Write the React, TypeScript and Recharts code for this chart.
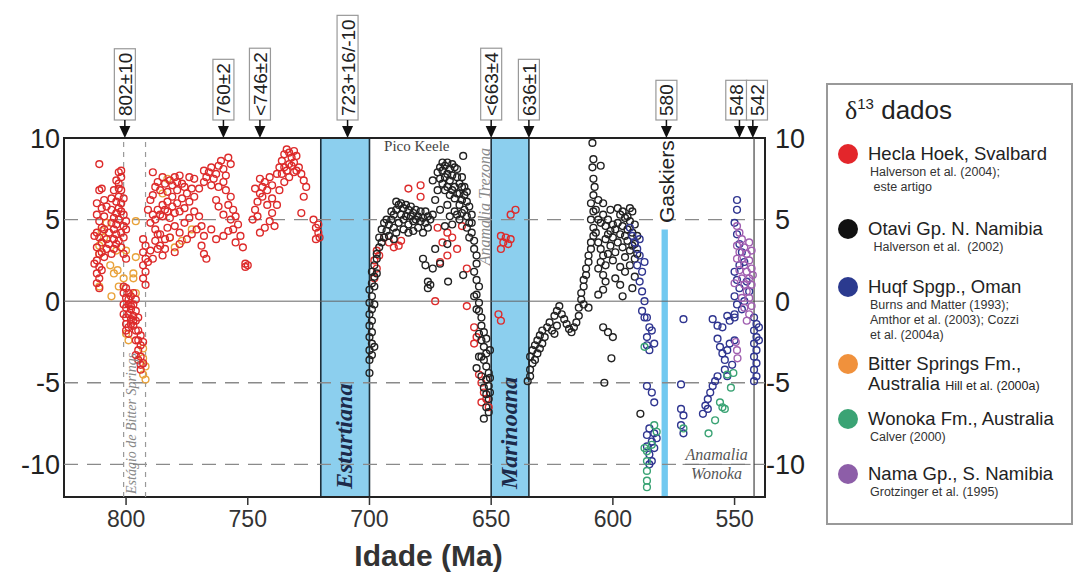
import React from 'react'
import { ScatterChart, Scatter, XAxis, YAxis, ReferenceArea, ReferenceLine, ReferenceDot } from 'recharts'

type P = [number, number]

// idade (Ma), δ13C
const heclaHoek: P[] = [
  [811, 8.4], [811, 6.8], [810, 6.9], [812, 5.3], [811, 4.9], [810, 4.5], [812, 4.2], [811, 3.9], [810, 3.6], [812, 3.3],
  [811, 2.9], [812, 2.5], [811, 2.1], [812, 1.7], [811, 1.4], [812, 1.1], [810, 5.7], [809, 5.2], [809, 4.4], [808, 3.8],
  [808, 3.2], [809, 2.7], [810, 1.9], [811, 0.8], [813, 4.0], [813, 2.3], [812, 6.0], [810, 3.0], [809, 6.2], [808, 5.8],
  [807, 4.2], [807, 3.5],
  [803, 7.9], [802, 7.6], [803, 7.2], [802, 6.8], [803, 6.4], [804, 6.1], [802, 6.0], [803, 5.7], [804, 5.4], [805, 5.1],
  [803, 5.0], [804, 4.7], [805, 4.4], [804, 4.1], [805, 3.8], [804, 3.5], [805, 3.2], [806, 2.9], [806, 4.8], [806, 5.6],
  [801, 6.3], [801, 5.3], [800, 4.9], [800, 4.4], [801, 3.9], [800, 2.6], [806, 6.3], [805, 6.8], [804, 7.4], [802, 8.0],
  [803, 6.9], [802, 5.5], [801, 4.6], [802, 4.2], [803, 3.7], [802, 3.3], [801, 2.9],
  [801, 0.5], [800, 0.2], [799, 0.5], [798, 0.3], [797, 0.5], [801, -0.2], [800, -0.4], [799, -0.2], [798, -0.5], [797, -0.2],
  [796, 0.1], [801, -0.8], [800, -1.0], [799, -0.8], [798, -1.1], [797, -0.9], [796, -0.6], [800, -1.4], [799, -1.6], [797, -1.5],
  [796, -1.2], [795, -1.0], [795, -1.8], [794, -2.1], [796, -2.4], [794, -2.7], [795, -3.0], [794, -3.4], [793, -3.8], [794, -4.2],
  [793, -2.5], [801, 0.9], [800, 0.8], [798, -0.3], [799, 0.1], [797, -1.2], [798, -1.4], [800, -1.8], [799, -2.0], [796, -1.8],
  [795, -2.4], [796, -3.3], [795, -3.6], [794, -3.9],
  [793, 3.8], [792, 3.4], [793, 3.0], [792, 2.6], [793, 2.2], [792, 1.8], [793, 1.4], [792, 1.0], [791, 2.4], [790, 3.1],
  [791, 5.6], [790, 6.2],
  [789, 7.9], [788, 7.0], [786, 6.8], [784, 7.2], [782, 7.4], [780, 7.6], [778, 7.7], [777, 7.2], [779, 6.8], [781, 6.4],
  [783, 6.1], [785, 5.9], [787, 5.6], [789, 5.3], [790, 4.8], [788, 4.4], [786, 4.1], [784, 3.8], [786, 3.4], [788, 5.0],
  [785, 5.2], [783, 5.5], [781, 5.8], [779, 6.0], [777, 6.3], [775, 6.6], [773, 6.9], [772, 7.5], [776, 4.8], [774, 5.1],
  [772, 5.5], [780, 4.6], [778, 4.2], [782, 3.9], [784, 3.2], [780, 3.0], [778, 3.5], [775, 3.8], [773, 4.1], [771, 4.4],
  [770, 5.2], [783, 4.5], [785, 2.8], [787, 3.2], [789, 6.5], [787, 7.3], [785, 7.6], [783, 6.7], [781, 7.1], [779, 7.3],
  [776, 7.0], [774, 7.6], [788, 3.7], [786, 5.3], [784, 5.6], [782, 5.1], [780, 5.4], [778, 5.5], [776, 5.7], [774, 6.1],
  [772, 6.4], [789, 2.6], [787, 4.1],
  [768, 8.0], [767, 7.6], [766, 7.9], [765, 8.2], [764, 7.5], [763, 7.8], [762, 8.3], [761, 8.6], [760, 8.1], [759, 7.7],
  [758, 8.8], [757, 8.4], [760, 7.3], [762, 7.0], [765, 7.1], [768, 7.3], [770, 6.9], [759, 6.8], [757, 6.4], [758, 5.9],
  [756, 5.6], [755, 5.2], [757, 5.0], [760, 5.3], [762, 5.8], [763, 6.2], [754, 4.7], [756, 4.4], [753, 4.0], [758, 4.3],
  [760, 4.0], [755, 3.6], [752, 3.3], [769, 4.6], [768, 4.0], [769, 3.4], [768, 2.9], [767, 2.6], [751, 2.3], [750, 2.2],
  [751, 2.1], [765, 4.4], [763, 3.8],
  [747, 5.6], [746, 6.1], [745, 6.6], [744, 7.0], [743, 7.3], [742, 6.8], [744, 6.4], [746, 5.2], [741, 7.6], [740, 7.1],
  [742, 5.9], [740, 5.4], [739, 4.6], [741, 4.9], [738, 7.8], [737, 8.2], [736, 8.6], [735, 9.0], [734, 9.3], [733, 9.1],
  [732, 8.8], [731, 8.5], [730, 8.9], [732, 8.3], [734, 8.0], [736, 7.8], [733, 7.6], [731, 7.9], [729, 8.2], [735, 7.3],
  [737, 6.8], [743, 4.5], [745, 4.2], [748, 5.0], [738, 5.9], [740, 6.3], [745, 7.5], [747, 6.9], [733, 8.4], [735, 8.2],
  [731, 9.2], [730, 8.0], [728, 7.8],
  [727, 7.4], [726, 7.0], [727, 6.4], [728, 5.4], [723, 5.0], [722, 4.5], [721, 4.2], [720.5, 3.9], [722, 3.8], [721, 4.7],
  [684, 6.9], [679, 7.1], [679, 6.4], [694, 3.9], [692, 3.6], [690, 3.3], [688, 3.4], [687, 3.7], [697, 3.1], [698, 2.5],
  [697, 2.0], [698, 1.4], [696, 2.8], [672, 4.5], [668, 4.2], [670, 3.6], [666, 3.9], [664, 3.2], [668, 2.8], [671, 2.4],
  [662, 4.6], [660, 2.0], [673, 0.0], [660, -0.3], [657, -1.6], [656, -2.2], [657, -2.6], [655, -4.5], [654, -5.0], [653, -5.6],
  [652, -6.0], [651, -6.5], [654, -6.2], [652, -4.8],
  [646, 4.0], [645, 3.6], [644, 3.9], [643, 3.5], [646, 3.2], [642, 3.8], [647, -0.8], [646, -1.2], [642, 5.3], [640, 5.6],
]

const otavi: P[] = [
  [700, -4.4], [700, -3.6], [700, -3.0], [699, -2.6], [700, -2.2], [699, -1.9], [700, -1.5], [699, -1.2], [700, -0.8], [699, -0.5],
  [700, -0.1], [699, 0.3], [700, 0.7], [699, 1.1], [698, 1.5], [699, 1.8], [698, 2.2], [697, 2.6], [697, 2.9], [696, 3.3],
  [695, 3.6], [694, 3.9], [698, -2.8], [699, -3.3], [698, -0.2], [698, 0.9], [697, 1.7],
  [693, 4.3], [692, 4.7], [691, 5.0], [690, 5.3], [689, 5.6], [688, 5.9], [687, 6.0], [686, 5.7], [685, 5.9], [684, 5.6],
  [683, 5.8], [682, 5.4], [681, 5.6], [680, 5.2], [679, 5.5], [678, 5.1], [677, 4.8], [690, 4.5], [688, 4.8], [686, 5.0],
  [684, 4.7], [682, 4.9], [680, 4.5], [678, 4.2], [676, 4.5], [675, 5.0], [674, 5.3], [692, 4.0], [690, 3.8], [694, 4.8],
  [689, 4.2], [696, 3.9], [695, 4.4], [693, 5.0], [691, 5.5], [689, 6.1], [687, 5.3], [685, 5.2], [683, 5.2], [681, 5.0],
  [679, 4.9], [677, 5.5], [676, 5.2], [686, 4.4], [684, 4.2], [682, 4.3],
  [678, 2.6], [677, 2.2], [676, 1.2], [675, 1.0], [676, 0.8], [674, 2.0], [671, 2.3],
  [672, 7.9], [671, 8.2], [670, 8.0], [669, 8.3], [668, 7.8], [667, 8.1], [666, 7.7], [665, 8.2], [664, 7.6], [663, 7.2],
  [662, 7.0], [661.5, 8.9], [670, 7.2], [669, 6.8], [668, 7.0], [667, 6.5], [666, 6.8], [665, 6.3], [664, 6.6], [663, 5.9],
  [662, 6.2], [661, 6.5], [660, 6.1], [659, 5.8], [660, 5.2], [659, 4.8], [658, 5.3], [661, 5.6], [663, 5.0], [665, 5.5],
  [667, 5.2], [669, 4.6], [671, 5.6], [673, 6.2], [674, 7.4], [672, 6.8], [662, 7.6], [664, 5.3], [666, 4.7], [668, 5.9],
  [671, 7.5], [669, 7.6], [667, 7.4], [665, 7.0], [663, 6.6], [661, 7.0], [660, 6.7], [670, 8.5], [668, 8.5], [666, 8.4],
  [664, 8.1], [662, 5.4], [660, 4.5], [658, 4.8], [659, 3.9],
  [658, 4.2], [657, 3.7], [657, 3.2], [656, 2.8], [656, 2.3], [657, 1.8], [656, 1.3], [655, 0.9], [656, 0.4], [655, -0.1],
  [655, -0.6], [654, -1.0], [654, -1.5], [653, -1.9], [654, -2.4], [653, -2.8], [652, -3.2], [653, -3.6], [652, -4.0], [651, -4.4],
  [652, -4.8], [651, -5.2], [650.5, -5.6], [651, -6.0], [652, -6.5], [653, -7.2], [655, -3.4], [656, -4.1], [654, -4.6], [650.5, -3.0],
  [654, -3.4], [652, -2.3], [653, -5.3], [652, -5.7], [651, -6.8], [650.5, -4.7], [655, -2.0], [656, -0.5], [657, 0.3],
  [667.7, 1.2], [661.5, 1.6], [673, 3.2], [668, 3.5],
  [635, -4.9], [634, -4.6], [634, -4.2], [633, -3.8], [634, -3.4], [633, -3.0], [632, -3.6], [631, -3.2], [632, -2.7], [631, -2.4],
  [630, -2.9], [629, -2.6], [630, -2.1], [629, -1.8], [628, -2.2], [627, -1.6], [626, -1.3], [625, -1.8], [624, -2.0], [623, -1.5],
  [624, -0.9], [623, -0.6], [622, -0.3], [621, -0.8], [620, -1.1], [619, -1.4], [618, -1.7], [617, -1.9], [616, -1.6], [615, -1.3],
  [614, -0.9], [614, -0.4], [613, 0.1], [613, 0.5], [612, 0.9], [612, 1.3], [611, 1.6], [611, 2.0], [610, 2.4], [610, 2.8],
  [609, 3.2], [609, 3.6], [608, 4.0], [608, 4.5], [609, 5.0], [608, 5.5], [609, 6.0], [608, 6.5], [607.5, 7.0], [608, 7.5],
  [608.4, 8.2], [608, 8.7], [608.4, 9.7], [605, 8.3], [607, 4.2], [606, 3.6], [605, 3.2], [604, 2.8], [605, 2.4], [606, 2.0],
  [604, 1.6], [603, 1.2], [605, 4.8], [604, 5.3], [603, 4.6], [602, 5.0], [601, 4.3], [600, 4.7], [600, 3.9], [601, 3.4],
  [602, 2.9], [603, 2.2], [600, 2.5], [599, 3.0], [598, 5.7], [598, 3.6], [597, 4.1], [597, 2.1], [596, 4.6], [596, 3.3],
  [595, 5.1], [595, 2.7], [594, 4.4], [594, 3.7], [593, 4.9], [593, 3.1], [592, 5.5], [592, 4.2], [591, 4.7], [591, 3.5],
  [590, 4.0], [590, 2.9], [599, 1.4], [597, 1.0], [595, 1.8], [593, 2.2], [604, -1.6], [602, -1.9], [600, -2.2], [600.6, -3.5],
  [603.5, -5.0], [610, -0.4], [612, -0.2], [606, 0.4], [604, 0.7], [596, 0.3], [592, 0.8], [591, 1.5], [588.7, -6.9],
  [607, 5.6], [606, 6.2], [606, 5.0], [604, 6.0], [603, 3.8], [602, 4.1], [601, 5.6], [599, 4.4], [598, 4.8], [597, 5.3],
  [596, 5.5], [595, 4.0], [594, 5.2], [593, 5.7], [592, 3.4], [591, 2.6],
]

const huqf: P[] = [
  [593, 4.5], [592, 4.0], [591, 3.6], [590, 3.2], [589, 2.8], [590, 2.2], [588, 1.8], [589, 1.2], [588, 0.6], [587, 0.0],
  [588, -0.6], [586, -1.0], [589, 3.8], [587, 2.4],
  [587, -1.0], [585, -1.6], [586, -2.2], [584, -1.8], [583, -2.6], [585, -3.0], [586, -2.7],
  [586, -5.2], [584, -5.6], [583, -6.2], [585, -7.8], [586, -8.2], [584, -8.6], [583, -9.0], [585, -9.4], [584, -9.8], [586, -8.9],
  [583, -8.1], [582, -8.4], [585, -10.0],
  [571, -1.1], [572, -5.1], [572, -6.6], [571, -7.0], [572, -7.6], [571, -8.1],
  [563, -6.9], [562, -6.4], [561, -6.0], [560, -5.6], [559, -5.2], [558, -4.9], [557, -4.6], [561, -6.6],
  [559, -1.1], [557, -1.5], [555, -1.6], [557, -2.3], [556, -2.8], [555, -3.2], [554, -3.6], [553, -3.0], [552, -2.6], [554, -4.2],
  [553, -4.6], [551, -3.9], [550, -2.4], [552, -1.2], [550, -1.0], [553, -0.9],
  [549, 6.2], [549, 5.6], [550, 4.8], [549, 4.1], [548, 3.5], [547, 3.0], [546, 2.4], [550, 1.8], [549, 1.3], [548, 0.8],
  [550, 0.3], [549, -0.2], [547, -0.5], [546, 0.0], [548, 2.2], [545, 1.2], [544, 0.6], [550, -0.8],
  [542, -1.0], [541, -1.4], [542, -1.8], [541, -2.2], [542, -2.6], [541, -3.0], [542, -3.4], [541, -3.8], [542, -4.2], [541, -4.6],
  [542, -4.9], [540, -1.6], [540, -2.4],
]

const bitterSprings: P[] = [
  [783, 7.5], [785, 6.6], [796, 4.9], [796, 2.7], [800, 3.1], [804, 3.1], [806.5, 2.2], [805, 1.7], [803.5, 1.9], [801, 1.4],
  [803, 0.9], [806, 0.3], [797, 1.7], [797, 1.4], [796, 0.5], [811, 3.4], [810, 4.3], [808, 4.8], [809, 3.9], [811, 2.9],
  [811, 0.9], [800, -2.0], [799, -2.4], [793, -2.9], [793, -3.5], [792, -4.0], [793, -4.5], [780, 3.3], [777, 3.7], [773, 4.4],
  [782, 3.9], [792, -4.8],
]

const wonoka: P[] = [
  [587, -2.8], [586, -9.2], [586, -9.8], [586, -10.4], [586, -11.0], [586, -11.4], [583, -7.6], [582, -8.0], [584, -8.8], [587, -9.0],
  [571, -7.8], [560.7, -8.1], [558, -7.3], [556, -6.2], [555, -6.5], [554, -6.6], [551.5, -5.3], [550.5, -4.4], [553, -4.5],
]

const nama: P[] = [
  [549, 4.6], [548, 4.2], [547, 3.8], [549, 3.4], [548, 3.0], [547, 2.6], [546, 2.2], [545, 1.8], [544, 1.4], [543, 1.0],
  [546, 3.3], [545, 2.9], [544, 2.5], [543, 2.0], [542.5, 1.6], [544, 3.6], [543, 3.1], [547, 1.4], [546, 1.0], [545, 0.6],
  [544, 0.2], [543, -0.3], [546, -0.4], [544, -0.8], [545, -1.2], [547, 0.2], [548, 1.9], [548.8, -3.5], [549, -3.0], [549.5, -2.5],
  [550, 1.1], [549, 2.6],
]

const idadeTicks = [800, 750, 700, 650, 600, 550]
const deltaTicks = [-10, -5, 0, 5, 10]

// datas radiométricas no topo: at = onde a seta aponta, caixa = centro da caixa (se deslocada)
const datasTopo = [
  { at: 800.5, label: '802±10' },
  { at: 760, label: '760±2' },
  { at: 745, label: '<746±2' },
  { at: 709, label: '723+16/-10' },
  { at: 650, label: '<663±4' },
  { at: 634.5, label: '636±1' },
  { at: 578, label: '580' },
  { at: 548, label: '548', caixa: 549.3 },
  { at: 542.5, label: '542', caixa: 540.8 },
]

const glaciacoes = [
  { nome: 'Esturtiana', de: 720, ate: 700, meio: 710 },
  { nome: 'Marinoana', de: 650, ate: 634.5, meio: 642.25 },
]

const series = [
  { nome: 'Bitter Springs', dados: bitterSprings, cor: '#e9a23a' },
  { nome: 'Hecla Hoek', dados: heclaHoek, cor: '#dd2b2b' },
  { nome: 'Otavi', dados: otavi, cor: '#222222' },
  { nome: 'Huqf', dados: huqf, cor: '#2f3590' },
  { nome: 'Wonoka', dados: wonoka, cor: '#3aa374' },
  { nome: 'Nama', dados: nama, cor: '#a05fb0' },
]

const legenda = [
  { cor: '#e3262b', titulo: 'Hecla Hoek, Svalbard', refs: ['Halverson et al. (2004);', ' este artigo'], top: 58 },
  { cor: '#111111', titulo: 'Otavi Gp. N. Namibia', refs: [' Halverson et al.  (2002)'], top: 133 },
  { cor: '#2b3a8f', titulo: 'Huqf Spgp., Oman', refs: ['Burns and Matter (1993);', 'Amthor et al. (2003); Cozzi', 'et al. (2004a)'], top: 191 },
  { cor: '#f0913c', titulo: 'Bitter Springs Fm.,', refs: [], top: 268 },
  { cor: '#3aa374', titulo: 'Wonoka Fm., Australia', refs: ['Calver (2000)'], top: 323 },
  { cor: '#8d5ea8', titulo: 'Nama Gp., S. Namibia', refs: ['Grotzinger et al. (1995)'], top: 378 },
]

const SANS = '"Liberation Sans", Arial, sans-serif'
const SERIF = '"Liberation Serif", "Times New Roman", serif'

const charW: Record<string, number> = { '±': 0.549, '<': 0.584, '+': 0.584, '/': 0.278, '-': 0.333 }
const textW = (s: string, fs: number) => s.split('').reduce((a, c) => a + (charW[c] ?? 0.556), 0) * fs

const pts = (a: P[]) => a.map(([x, y]) => ({ x, y }))

const Seta = ({ cx, cy, bx, label }: any) => {
  const fs = 19
  const h = textW(label, fs) + 8
  const base = cy - 18
  return (
    <g>
      <rect x={bx - 10.5} y={base - h} width={21} height={h} fill="#fff" stroke="#999" strokeWidth={1.2} />
      <text transform={`translate(${bx + 7},${base - 4}) rotate(-90)`} fontSize={fs} fontFamily={SANS} fill="#222">{label}</text>
      <line x1={cx} x2={cx} y1={base} y2={cy - 10} stroke="#111" strokeWidth={1.5} />
      <path d={`M${cx - 5.5},${cy - 12} L${cx + 5.5},${cy - 12} L${cx},${cy} Z`} fill="#111" />
    </g>
  )
}

const LeftTick = ({ x, y, payload }: any) => (
  <text x={x} y={y} dy={9.5} textAnchor="end" fontSize={27} fontFamily={SANS} fill="#222">{payload.value}</text>
)
const RightTick = ({ x, y, payload }: any) => (
  <text x={x + (payload.value < 0 ? 1 : 10)} y={y} dy={9.5} textAnchor="start" fontSize={27} fontFamily={SANS} fill="#222">{payload.value}</text>
)
const BottomTick = ({ x, y, payload }: any) => (
  <text x={x} y={y} dy={20} textAnchor="middle" fontSize={23} fontFamily={SANS} fill="#333">{payload.value}</text>
)

export default function App() {
  return (
    <div style={{ position: 'absolute', left: 0, top: 0, width: 1076, height: 572, background: '#fff' }}>
      <ScatterChart width={1076} height={572} margin={{ top: 138, right: 251, left: 0, bottom: 0 }}>
        <XAxis
          type="number" dataKey="x" domain={[537.5, 825.5]} reversed allowDataOverflow
          ticks={idadeTicks} tickSize={8} tickMargin={2} height={75}
          axisLine={false} tickLine={{ stroke: '#333', strokeWidth: 1.5 }} tick={<BottomTick />}
          label={{
            content: ({ viewBox }: any) => (
              <text x={viewBox.x + viewBox.width / 2 + 14} y={566} textAnchor="middle" fontSize={30} fontWeight="bold" fontFamily={SANS} fill="#333">Idade (Ma)</text>
            ),
          }}
        />
        <YAxis yAxisId="l" type="number" dataKey="y" domain={[-12, 10]} ticks={deltaTicks} width={64}
          axisLine={false} tickLine={false} tickSize={0} tickMargin={4} tick={<LeftTick />} allowDataOverflow />
        <YAxis yAxisId="r" orientation="right" type="number" dataKey="y" domain={[-12, 10]} ticks={deltaTicks} width={60}
          axisLine={false} tickLine={false} tickSize={0} tickMargin={0} tick={<RightTick />} allowDataOverflow />

        {[5, -5, -10].map((v) => (
          <ReferenceLine key={v} yAxisId="l" y={v} stroke="#8a8a8a" strokeWidth={1.3} strokeDasharray="14 9" />
        ))}
        <ReferenceLine yAxisId="l" y={0} stroke="#666" strokeWidth={1} />
        <ReferenceLine yAxisId="l" x={801} stroke="#999" strokeWidth={1.2} strokeDasharray="5 5" />
        <ReferenceLine yAxisId="l" x={792} stroke="#999" strokeWidth={1.2} strokeDasharray="5 5" />
        <ReferenceLine yAxisId="l" x={542} stroke="#444" strokeWidth={1.2} />

        {glaciacoes.map((g) => (
          <ReferenceArea key={g.nome} yAxisId="l" x1={g.de} x2={g.ate} y1={-12} y2={10}
            fill="#8ccfee" fillOpacity={1} stroke="#1d2f3a" strokeWidth={1.6} ifOverflow="visible" />
        ))}
        <ReferenceArea yAxisId="l" x1={580} x2={577.4} y1={-12} y2={4.4} fill="#72c9f0" fillOpacity={1} stroke="none" />

        {series.map((s) => (
          <Scatter key={s.nome} yAxisId="l" data={pts(s.dados)} isAnimationActive={false}
            shape={(p: any) => <circle cx={p.cx} cy={p.cy} r={3.4} fill="none" stroke={s.cor} strokeWidth={1.4} />} />
        ))}

        {glaciacoes.map((g) => (
          <ReferenceDot key={'t' + g.nome} yAxisId="l" x={g.meio} y={-12} r={0} ifOverflow="visible"
            shape={({ cx, cy }: any) => (
              <text transform={`translate(${cx + 7},${cy - 8}) rotate(-90)`} fontSize={24} fontStyle="italic" fontWeight="bold"
                fontFamily={SERIF} fill="#1c2a4a">{g.nome}</text>
            )} />
        ))}
        <ReferenceDot yAxisId="l" x={796} y={-12} r={0} ifOverflow="visible"
          shape={({ cx, cy }: any) => (
            <text transform={`translate(${cx},${cy - 3}) rotate(-90)`} fontSize={14} fontStyle="italic" fontFamily={SERIF} fill="#888">Estágio de Bitter Springs</text>
          )} />
        <ReferenceDot yAxisId="l" x={650.3} y={2.2} r={0} ifOverflow="visible"
          shape={({ cx, cy }: any) => (
            <text transform={`translate(${cx},${cy}) rotate(-90)`} fontSize={16} fontStyle="italic" fontFamily={SERIF} fill="#8a8a8a">Anamalia Trezona</text>
          )} />
        <ReferenceDot yAxisId="l" x={694} y={9.2} r={0} ifOverflow="visible"
          shape={({ cx, cy }: any) => (
            <text x={cx} y={cy} fontSize={15} fontFamily={SERIF} fill="#444">Pico Keele</text>
          )} />
        <ReferenceDot yAxisId="l" x={578} y={4.6} r={0} ifOverflow="visible"
          shape={({ cx, cy }: any) => (
            <text transform={`translate(${cx + 8},${cy - 3}) rotate(-90)`} fontSize={21} fontFamily={SANS} fill="#222">Gaskiers</text>
          )} />
        <ReferenceDot yAxisId="l" x={557.4} y={-10} r={0} ifOverflow="visible"
          shape={({ cx, cy }: any) => (
            <g>
              <line x1={cx - 34} x2={cx + 34} y1={cy} y2={cy} stroke="#777" strokeWidth={1} />
              <text x={cx} y={cy - 4} textAnchor="middle" fontSize={16} fontStyle="italic" fontFamily={SERIF} fill="#555">Anamalia</text>
              <text x={cx} y={cy + 15} textAnchor="middle" fontSize={16} fontStyle="italic" fontFamily={SERIF} fill="#555">Wonoka</text>
            </g>
          )} />

        <ReferenceArea yAxisId="l" x1={537.5} x2={825.5} y1={-12} y2={10} fill="none" stroke="#222" strokeWidth={2} ifOverflow="visible" />

        {datasTopo.map((d) => (
          <ReferenceDot key={d.label} yAxisId="l" x={d.at} y={10} r={0} ifOverflow="visible"
            shape={(p: any) => <Seta cx={p.cx} cy={p.cy} bx={p.cx + (d.caixa !== undefined ? (d.at - d.caixa) * 2.434 : 0)} label={d.label} />} />
        ))}
      </ScatterChart>

      <div style={{ position: 'absolute', left: 826, top: 83, width: 247, height: 442, border: '2px solid #999', boxSizing: 'border-box', fontFamily: SANS, color: '#222' }}>
        <div style={{ position: 'absolute', left: 17, top: 10, fontSize: 26, whiteSpace: 'nowrap' }}>
          <span style={{ fontFamily: SERIF }}>δ</span>
          <sup style={{ fontSize: 15 }}>13</sup> dados
        </div>
        {legenda.map((it) => (
          <div key={it.titulo} style={{ position: 'absolute', left: 0, top: it.top, width: 245 }}>
            <div style={{ position: 'absolute', left: 10, top: 1, width: 20, height: 20, borderRadius: 10, background: it.cor }} />
            <div style={{ position: 'absolute', left: 40, top: 0, fontSize: 18.5, lineHeight: '22px', whiteSpace: 'nowrap' }}>{it.titulo}</div>
            {it.titulo.startsWith('Bitter') && (
              <div style={{ position: 'absolute', left: 40, top: 20, fontSize: 18.5, lineHeight: '22px', whiteSpace: 'nowrap' }}>
                Australia <span style={{ fontSize: 12.5 }}>Hill et al. (2000a)</span>
              </div>
            )}
            {it.refs.map((r, i) => (
              <div key={i} style={{ position: 'absolute', left: 42, top: 22 + i * 15, fontSize: 12.5, lineHeight: '15px', whiteSpace: 'pre', color: '#333' }}>{r}</div>
            ))}
          </div>
        ))}
      </div>
    </div>
  )
}
